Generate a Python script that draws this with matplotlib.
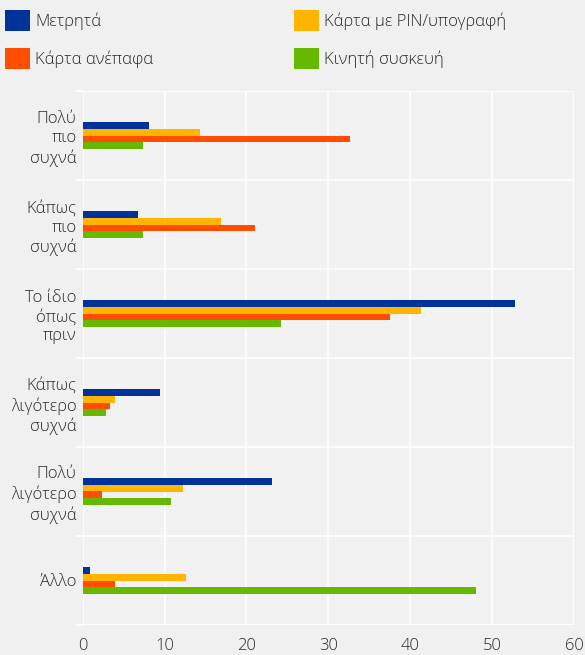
import matplotlib
matplotlib.use("Agg")
import matplotlib.pyplot as plt
import numpy as np

categories = ["Πολύ\nπιο\nσυχνά", "Κάπως\nπιο\nσυχνά", "Το ίδιο\nόπως\nπριν",
              "Κάπως\nλιγότερο\nσυχνά", "Πολύ\nλιγότερο\nσυχνά", "Άλλο"]
series_names = ["Μετρητά", "Κάρτα με PIN/υπογραφή", "Κάρτα ανέπαφα", "Κινητή συσκευή"]
cash = [8.1, 6.7, 52.8, 9.5, 23.1, 0.9]
card_pin = [14.3, 16.9, 41.3, 3.9, 12.2, 12.6]
contactless = [32.6, 21.0, 37.5, 3.3, 2.3, 4.0]
mobile = [7.4, 7.4, 24.2, 2.9, 10.8, 48.0]
colors = ["#003399", "#ffb400", "#ff4e00", "#66b800"]

plt.rcParams["font.family"] = ["Open Sans", "DejaVu Sans"]
plt.rcParams["font.weight"] = "light"
bg = "#f0f0f0"
txt = "#2a2a2a"
fs = 12

fig = plt.figure(figsize=(5.85, 6.55), dpi=100, facecolor=bg)
ax = fig.add_axes([82.7 / 585, 1 - 625 / 655, (574 - 82.7) / 585, (625 - 91) / 655])
ax.set_facecolor("#f2f2f2")

y = np.arange(len(categories))
h = 0.078
bars = []
for i, (vals, name, c) in enumerate(zip([cash, card_pin, contactless, mobile], series_names, colors)):
    bars.append(ax.barh(y + (i - 1.5) * h, vals, height=h, color=c, label=name, zorder=3))

ax.set_xlim(0, 60)
ax.set_ylim(len(categories) - 0.5, -0.5)
ax.set_xticks(range(0, 61, 10))
ax.set_yticks(y)
ax.set_yticklabels(categories, linespacing=1.25)
ax.set_yticks(np.arange(-0.5, len(categories), 1), minor=True)
ax.grid(True, axis="x", color="white", linewidth=1.3, zorder=1)
ax.grid(True, axis="y", which="minor", color="white", linewidth=1.3, zorder=1)
ax.tick_params(axis="y", which="major", length=0, pad=4.5, labelsize=fs, labelcolor=txt)
ax.tick_params(axis="y", which="minor", length=5, color="white", width=1.3)
ax.tick_params(axis="x", length=0, pad=9, labelsize=fs, labelcolor=txt)
for s in ax.spines.values():
    s.set_visible(False)

# legend: two columns, placed like the original
leg_kw = dict(loc="upper left", frameon=False, fontsize=fs, handlelength=1.5,
              handleheight=1.56, handletextpad=0.3, labelspacing=1.0,
              borderpad=0, borderaxespad=0, labelcolor=txt)
fig.legend([bars[0], bars[2]], [series_names[0], series_names[2]],
           bbox_to_anchor=(5 / 585, 1 - 10 / 655), **leg_kw)
fig.legend([bars[1], bars[3]], [series_names[1], series_names[3]],
           bbox_to_anchor=(294 / 585, 1 - 10 / 655), **leg_kw)

fig.savefig("out.png", dpi=100, facecolor=bg)
